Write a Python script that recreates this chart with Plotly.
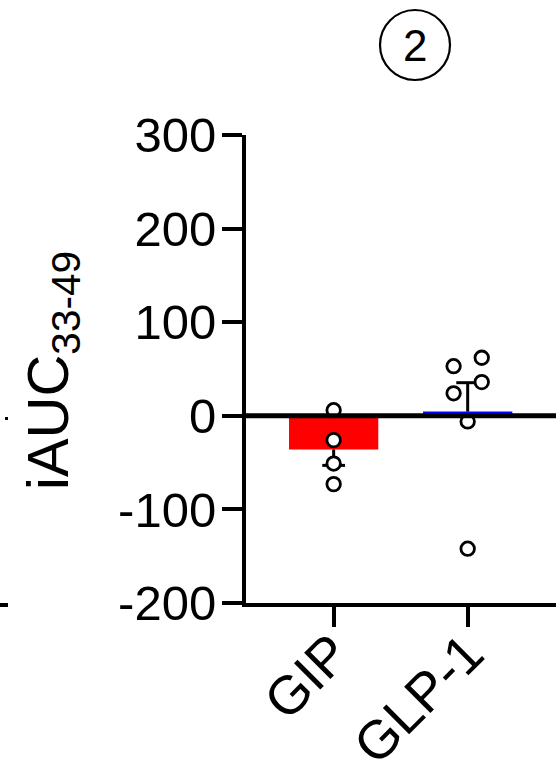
import numpy as np
import plotly.graph_objects as go

# iAUC (33-49 min) per subject
groups = ["GIP", "GLP-1"]
gip_values = [6, -26, -51, -73]
glp1_values = [53, 62, 36, 24, -6, -142]
bar_colors = ["#FF0000", "#0000FF"]
y_ticks = [-200, -100, 0, 100, 200, 300]

# horizontal spread of the dots within each column (category units)
gip_offsets = [0, 0, 0, 0]
glp1_offsets = [-0.105, 0.105, 0.105, -0.105, 0, 0]

W, H = 556, 763
L, R, T, B = 246, 0, 135, 160
PW, PH = W - L - R, H - T - B


def px_x(p):
    return (p - L) / PW


def px_y(p):
    return (H - B - p) / PH


series = [gip_values, glp1_values]
offsets = [gip_offsets, glp1_offsets]
means = [float(np.mean(v)) for v in series]
sems = [float(np.std(v, ddof=1) / np.sqrt(len(v))) for v in series]

fig = go.Figure()

fig.add_trace(go.Bar(
    x=[0, 1], y=means, width=0.666,
    marker=dict(color=bar_colors, line=dict(width=0)),
    showlegend=False, hoverinfo="skip",
))

# one-sided SEM bars, pointing away from zero
cap = 0.085
ex, ey = [], []
for i, (m, s) in enumerate(zip(means, sems)):
    end = m + (s if m >= 0 else -s)
    ex += [i, i, None, i - cap, i + cap, None]
    ey += [m, end, None, end, end, None]
fig.add_trace(go.Scatter(
    x=ex, y=ey, mode="lines",
    line=dict(color="black", width=3),
    showlegend=False, hoverinfo="skip",
))

px, py = [], []
for i, (vals, offs) in enumerate(zip(series, offsets)):
    px += [i + o for o in offs]
    py += vals
fig.add_trace(go.Scatter(
    x=px, y=py, mode="markers",
    marker=dict(symbol="circle", size=13.5, color="white",
                line=dict(color="black", width=2.8)),
    showlegend=False,
))

font = "Liberation Sans, Arial, sans-serif"

fig.update_layout(
    width=W, height=H,
    margin=dict(l=L, r=R, t=T, b=B, pad=0),
    paper_bgcolor="white", plot_bgcolor="white",
    font=dict(family=font, color="black"),
    showlegend=False,
    xaxis=dict(
        range=[-0.654, 1.659], tickvals=[0, 1], ticktext=groups,
        tickangle=-45, tickfont=dict(size=54, family=font),
        ticklabelstandoff=-27, automargin=False,
        showline=True, linewidth=4, linecolor="black",
        ticks="outside", ticklen=20, tickwidth=4, tickcolor="black",
        showgrid=False, zeroline=False, fixedrange=True,
    ),
    yaxis=dict(
        range=[-200, 300], tickvals=y_ticks,
        ticktext=[str(v) for v in y_ticks],
        tickfont=dict(size=49, family=font),
        ticklabelstandoff=-4, automargin=False,
        showline=True, linewidth=4, linecolor="black",
        ticks="outside", ticklen=20, tickwidth=4, tickcolor="black",
        showgrid=False, zeroline=False, fixedrange=True,
    ),
    shapes=[
        # baseline at zero across the panel
        dict(type="line", xref="paper", yref="y", x0=0, x1=1, y0=0, y1=0,
             line=dict(color="black", width=5), layer="above"),
        # panel number ring
        dict(type="circle", xref="paper", yref="paper",
             x0=px_x(380), x1=px_x(450), y0=px_y(80), y1=px_y(10),
             line=dict(color="black", width=2.2)),
        # ticks of the neighbouring panel at the left edge
        dict(type="rect", xref="paper", yref="paper",
             x0=px_x(5), x1=px_x(8), y0=px_y(420), y1=px_y(417),
             fillcolor="black", line=dict(width=0)),
        dict(type="rect", xref="paper", yref="paper",
             x0=px_x(0), x1=px_x(8), y0=px_y(607), y1=px_y(603),
             fillcolor="black", line=dict(width=0)),
    ],
    annotations=[
        dict(text="iAUC<sub>33-49</sub>", xref="paper", yref="paper",
             x=px_x(52), y=px_y(371), xanchor="center", yanchor="middle",
             textangle=-90, showarrow=False,
             font=dict(size=58, family=font, color="black")),
        dict(text="2", xref="paper", yref="paper",
             x=px_x(415), y=px_y(45), xanchor="center", yanchor="middle",
             showarrow=False, font=dict(size=44, family=font, color="black")),
    ],
)

fig.write_html("out.html")
